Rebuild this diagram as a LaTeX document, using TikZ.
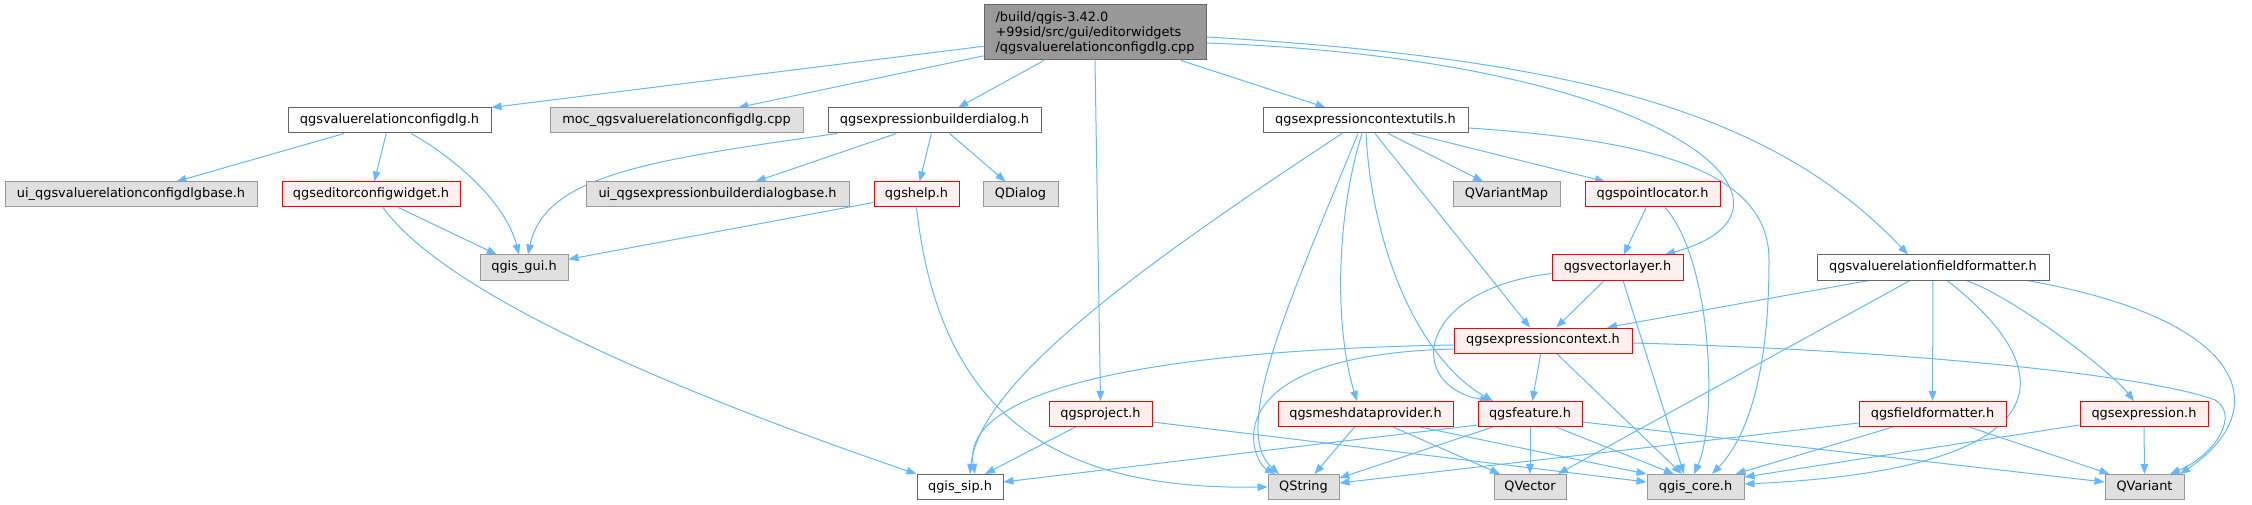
\documentclass[tikz,border=0pt]{standalone}
\usepackage{fontspec}
\setmainfont{DejaVu Sans}
\usetikzlibrary{arrows.meta,calc}
\pgfdeclarelayer{background}
\pgfsetlayers{background,main}
\definecolor{edgeblue}{HTML}{63B8FF}
\definecolor{rootfill}{HTML}{999999}
\definecolor{rootdraw}{HTML}{666666}
\definecolor{grayfill}{HTML}{E0E0E0}
\definecolor{graydraw}{HTML}{999999}
\definecolor{redfill}{HTML}{FFF0F0}
\definecolor{reddraw}{HTML}{FF0000}
\tikzset{
  basebox/.style={rectangle, line width=1pt, inner sep=0pt, minimum height=25pt, text height=9.5pt, text depth=3pt, text=black},
  rootbox/.style={basebox, fill=rootfill, draw=rootdraw, minimum height=55pt, minimum width=222pt, align=left, text height=, text depth=},
  whitebox/.style={basebox, fill=white, draw=rootdraw},
  graybox/.style={basebox, fill=grayfill, draw=graydraw},
  redbox/.style={basebox, fill=redfill, draw=reddraw},
  dep/.style={draw=edgeblue, line width=1pt, -{Triangle[length=10pt,width=7.5pt]}, fill=none}
}
\begin{document}
\begin{tikzpicture}[x=1pt,y=-1pt,font=\fontsize{12.9}{15}\selectfont]
\useasboundingbox (0,0) rectangle (2252,505);
% nodes
\node[rootbox] (root) at (1095,32.5) {/build/qgis-3.42.0\\+99sid/src/gui/editorwidgets\\/qgsvaluerelationconfigdlg.cpp};
\node[whitebox, minimum width=203pt] (vcd) at (389.5,120.5) {qgsvaluerelationconfigdlg.h};
\node[graybox, minimum width=253pt] (moc) at (676.5,120.5) {moc\_qgsvaluerelationconfigdlg.cpp};
\node[whitebox, minimum width=213pt] (ebd) at (934.5,120.5) {qgsexpressionbuilderdialog.h};
\node[whitebox, minimum width=205pt] (ecu) at (1365.5,120.5) {qgsexpressioncontextutils.h};
\node[graybox, minimum width=252pt] (uivcd) at (131,194.5) {ui\_qgsvaluerelationconfigdlgbase.h};
\node[redbox, minimum width=178pt] (ecw) at (371,194.5) {qgseditorconfigwidget.h};
\node[graybox, minimum width=263pt] (uiebd) at (717.5,194.5) {ui\_qgsexpressionbuilderdialogbase.h};
\node[redbox, minimum width=85pt] (help) at (916.5,194.5) {qgshelp.h};
\node[graybox, minimum width=75pt] (qdialog) at (1020.5,194.5) {QDialog};
\node[graybox, minimum width=107pt] (qvmap) at (1506.5,194.5) {QVariantMap};
\node[redbox, minimum width=135pt] (ploc) at (1652.5,194.5) {qgspointlocator.h};
\node[graybox, minimum width=88pt] (gui) at (524,267.5) {qgis\_gui.h};
\node[redbox, minimum width=131pt] (vlayer) at (1617.5,267.5) {qgsvectorlayer.h};
\node[whitebox, minimum width=232pt] (vrff) at (1933,267.5) {qgsvaluerelationfieldformatter.h};
\node[redbox, minimum width=178pt] (ectx) at (1543,340.5) {qgsexpressioncontext.h};
\node[redbox, minimum width=103pt] (proj) at (1100.5,414) {qgsproject.h};
\node[redbox, minimum width=175pt] (mesh) at (1365.5,414) {qgsmeshdataprovider.h};
\node[redbox, minimum width=104pt] (feat) at (1530,414) {qgsfeature.h};
\node[redbox, minimum width=147pt] (ffmt) at (1932.5,414) {qgsfieldformatter.h};
\node[redbox, minimum width=128pt] (expr) at (2144,414) {qgsexpression.h};
\node[whitebox, minimum width=86pt] (sip) at (960,487) {qgis\_sip.h};
\node[graybox, minimum width=71pt] (qstring) at (1303.5,487) {QString};
\node[graybox, minimum width=72pt] (qvector) at (1530,487) {QVector};
\node[graybox, minimum width=97pt] (core) at (1695.5,487) {qgis\_core.h};
\node[graybox, minimum width=79pt] (qvariant) at (2144.5,487) {QVariant};
\begin{pgfonlayer}{background}
% root edges
\draw[dep] (root) -- (vcd.north east);
\draw[dep] (root) -- (moc);
\draw[dep] (root) -- (ebd);
\draw[dep] (root.south) -- (proj.north);
\draw[dep] (root) -- (ecu);
\draw[dep] ($(root.east)+(0,10.5)$) .. controls (1680,60) and (1830,210) .. ($(vlayer.north)+(47.5,0)$);
\draw[dep] ($(root.east)+(0,4.5)$) .. controls (1600,60) and (1780,120) .. ($(vrff.north)+(-25,0)$);
% qgsvaluerelationconfigdlg.h
\draw[dep] (vcd) -- (uivcd);
\draw[dep] (vcd) -- (ecw);
\draw[dep] ($(vcd.south)+(21.5,0)$) .. controls (450,155) and (505,200) .. ($(gui.north)+(-5,0)$);
% qgseditorconfigwidget.h
\draw[dep] (ecw) -- (gui);
\draw[dep] ($(ecw.south)+(12,0)$) .. controls (450,300) and (700,400) .. (sip.north west);
% qgsexpressionbuilderdialog.h
\draw[dep] ($(ebd.south)+(-97.5,0)$) .. controls (650,160) and (545,175) .. ($(gui.north)+(4,0)$);
\draw[dep] (ebd) -- (uiebd);
\draw[dep] (ebd) -- (help);
\draw[dep] (ebd) -- (qdialog);
% qgshelp.h
\draw[dep] (help) -- (gui);
\draw[dep] (help.south) .. controls (940,420) and (1060,490) .. (qstring.west);
% qgsexpressioncontextutils.h
\draw[dep] ($(ecu.south)+(-23.5,0)$) .. controls (1150,260) and (980,380) .. ($(sip.north)+(10,0)$);
\draw[dep] ($(ecu.south)+(-7.5,0)$) .. controls (1290,300) and (1230,430) .. ($(qstring.north)+(-24.5,0)$);
\draw[dep] ($(ecu.south)+(-3.5,0)$) .. controls (1335,220) and (1335,330) .. ($(mesh.north)+(-8.5,0)$);
\draw[dep] ($(ecu.south)+(0.5,0)$) .. controls (1372,250) and (1420,360) .. ($(feat.north)+(-37,0)$);
\draw[dep] ($(ecu.south)+(9.5,0)$) -- ($(ectx.north)+(-13,0)$);
\draw[dep] ($(ecu.south)+(22.5,0)$) -- ($(qvmap.north)+(-23.5,0)$);
\draw[dep] ($(ecu.south)+(46.5,0)$) -- ($(ploc.north)+(-47.5,0)$);
\draw[dep] ($(ecu.east)+(0,7.5)$) .. controls (1650,140) and (1769,170) .. (1769,260) .. controls (1769,380) and (1745,440) .. ($(core.north)+(16.5,0)$);
% qgspointlocator.h
\draw[dep] (ploc) -- (vlayer);
\draw[dep] ($(ploc.south)+(12.5,0)$) .. controls (1712,260) and (1718,420) .. ($(core.north)+(-1.5,0)$);
% qgsvectorlayer.h
\draw[dep] (vlayer) -- (ectx);
\draw[dep] ($(vlayer.west)+(0,6)$) .. controls (1415,290) and (1405,385) .. ($(feat.north)+(-40,0)$);
\draw[dep] ($(vlayer.south)+(5.5,0)$) -- ($(core.north)+(-11.5,0)$);
% qgsvaluerelationfieldformatter.h
\draw[dep] ($(vrff.south)+(-64,0)$) -- ($(ectx.north)+(64,0)$);
\draw[dep] ($(vrff.south)+(-23,0)$) -- ($(qvector.north)+(28,0)$);
\draw[dep] (vrff) -- (ffmt);
\draw[dep] ($(vrff.south)+(14,0)$) .. controls (2075,380) and (2050,470) .. ($(core.east)+(0,-3)$);
\draw[dep] ($(vrff.south)+(33,0)$) .. controls (2010,295) and (2110,370) .. ($(expr.north)+(-10,0)$);
\draw[dep] ($(vrff.south)+(94,0)$) .. controls (2250,320) and (2275,410) .. ($(qvariant.north)+(35.5,0)$);
% qgsexpressioncontext.h
\draw[dep] ($(ectx.west)+(0,4.5)$) .. controls (1150,350) and (960,390) .. ($(sip.north)+(15,0)$);
\draw[dep] ($(ectx.west)+(0,8.5)$) .. controls (1210,355) and (1250,460) .. ($(qstring.north)+(-28.5,0)$);
\draw[dep] (ectx) -- (feat);
\draw[dep] (ectx) -- (core);
\draw[dep] ($(ectx.east)+(0,2.5)$) .. controls (1900,350) and (2150,375) .. (2215,400) .. controls (2240,415) and (2215,455) .. ($(qvariant.north)+(25.5,0)$);
% qgsproject.h
\draw[dep] (proj) -- (sip);
\draw[dep] ($(proj.east)+(0,8)$) -- ($(core.west)+(0,-5)$);
% qgsmeshdataprovider.h
\draw[dep] (mesh) -- (qstring);
\draw[dep] ($(mesh.south)+(27.5,0)$) -- ($(qvector.north)+(-30,0)$);
\draw[dep] ($(mesh.south)+(54.5,0)$) -- (core.north west);
% qgsfeature.h
\draw[dep] ($(feat.west)+(0,11)$) -- ($(sip.east)+(0,-5)$);
\draw[dep] ($(feat.south)+(-37,0)$) -- ($(qstring.east)+(0,-9)$);
\draw[dep] (feat) -- (qvector);
\draw[dep] ($(feat.south)+(26,0)$) -- ($(core.north)+(-21.5,0)$);
\draw[dep] ($(feat.east)+(0,8)$) -- ($(qvariant.west)+(0,-5)$);
% qgsfieldformatter.h
\draw[dep] ($(ffmt.west)+(0,9)$) -- ($(qstring.east)+(0,-4)$);
\draw[dep] ($(ffmt.south)+(-39.5,0)$) -- ($(core.north east)+(-9,0)$);
\draw[dep] ($(ffmt.south)+(36.5,0)$) -- ($(qvariant.north west)+(5,0)$);
% qgsexpression.h
\draw[dep] ($(expr.west)+(0,11)$) -- ($(core.north east)+(0,3)$);
\draw[dep] (expr) -- (qvariant);
\end{pgfonlayer}
\end{tikzpicture}
\end{document}
